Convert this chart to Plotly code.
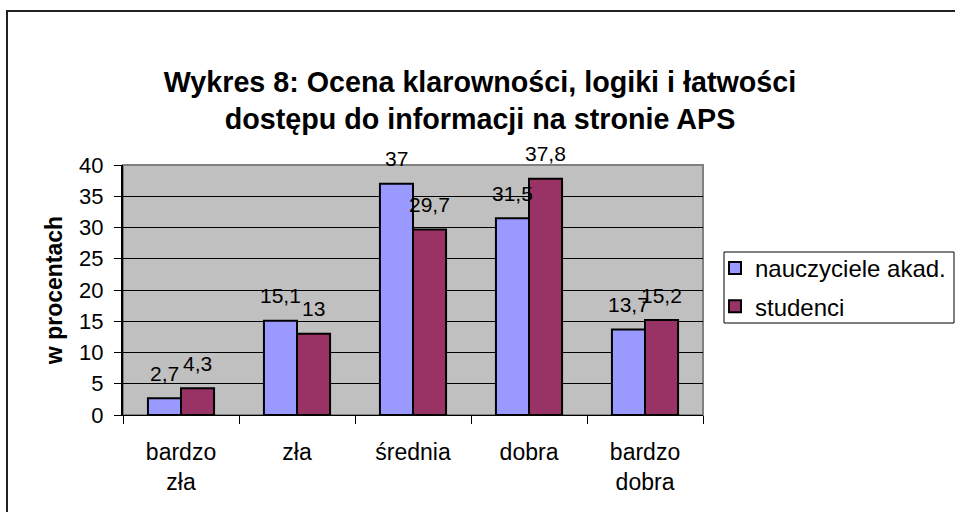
import plotly.graph_objects as go

categories = ["bardzo zła", "zła", "średnia", "dobra", "bardzo dobra"]
tick_labels = ["bardzo<br>zła", "zła", "średnia", "dobra", "bardzo<br>dobra"]
series_names = ["nauczyciele akad.", "studenci"]
nauczyciele = [2.7, 15.1, 37, 31.5, 13.7]
studenci = [4.3, 13, 29.7, 37.8, 15.2]
y_ticks = [0, 5, 10, 15, 20, 25, 30, 35, 40]

FONT = "Arial, 'Liberation Sans', sans-serif"
colors = ["#9999FF", "#993366"]

fig = go.Figure()
for i, (name, vals) in enumerate(zip(series_names, [nauczyciele, studenci])):
    fig.add_trace(go.Bar(
        x=categories, y=vals, name=name,
        marker=dict(color=colors[i], line=dict(color="black", width=2)),
        legendgroup=f"g{i}",
    ))

def fmt(v):
    s = f"{v:g}"
    return s.replace(".", ",")

annotations = []
for i, vals in enumerate([nauczyciele, studenci]):
    shift = -16.5 if i == 0 else 16.5
    for c, v in zip(categories, vals):
        annotations.append(dict(
            x=c, y=v, xref="x", yref="y", text=fmt(v), showarrow=False,
            xshift=shift, yshift=25, yanchor="middle", xanchor="center",
            font=dict(family=FONT, size=21, color="black"),
        ))

PW, PH = 580, 250  # plot area size in px
def px_x(x):
    return (x - 123) / PW
def px_y(y):
    return (415 - y) / PH

fig.update_layout(
    width=955, height=512,
    margin=dict(l=123, r=252, t=165, b=97, autoexpand=False),
    paper_bgcolor="white", plot_bgcolor="#C0C0C0",
    barmode="group", bargap=0.43, bargroupgap=0,
    font=dict(family=FONT, size=22, color="black"),
    title=dict(
        text="<b>Wykres 8: Ocena klarowności, logiki i łatwości<br>dostępu do informacji na stronie APS</b>",
        x=0.5026, y=1 - 92 / 512, xref="container", yref="container",
        xanchor="center", yanchor="middle",
        font=dict(family=FONT, size=28.7, color="black"),
    ),
    legend=dict(
        x=px_x(715), y=px_y(246), xanchor="left", yanchor="top",
        bgcolor="rgba(0,0,0,0)", borderwidth=0,
        font=dict(family=FONT, size=24, color="black"),
        tracegroupgap=4,
    ),
    annotations=annotations,
    shapes=[
        dict(type="rect", xref="paper", yref="paper", x0=0, x1=1, y0=0, y1=1,
             line=dict(color="#808080", width=2), layer="below"),
        dict(type="rect", xref="paper", yref="paper",
             x0=px_x(7), x1=px_x(970), y0=px_y(530), y1=px_y(11),
             line=dict(color="#222222", width=2), fillcolor="rgba(0,0,0,0)"),
        dict(type="rect", xref="paper", yref="paper",
             x0=px_x(724), x1=px_x(954), y0=px_y(323), y1=px_y(252),
             line=dict(color="black", width=1), fillcolor="white", layer="above"),
    ],
)

fig.update_yaxes(
    range=[0, 40], tickvals=y_ticks, showgrid=True, gridcolor="black", gridwidth=1,
    showline=True, linecolor="black", linewidth=2,
    ticks="outside", ticklen=7, tickcolor="black", tickwidth=1,
    ticklabelstandoff=6, zeroline=False,
    tickfont=dict(family=FONT, size=22),
    title=dict(text="<b>w procentach</b>", standoff=10,
               font=dict(family=FONT, size=23)),
)
fig.update_xaxes(
    tickvals=categories, ticktext=tick_labels,
    showline=True, linecolor="black", linewidth=1,
    ticks="outside", tickson="boundaries", ticklen=8, tickcolor="black",
    ticklabelstandoff=16,
    tickfont=dict(family=FONT, size=23),
)

fig.write_html("out.html", config={"displayModeBar": False},
               post_script="document.body.style.margin='0px';")
